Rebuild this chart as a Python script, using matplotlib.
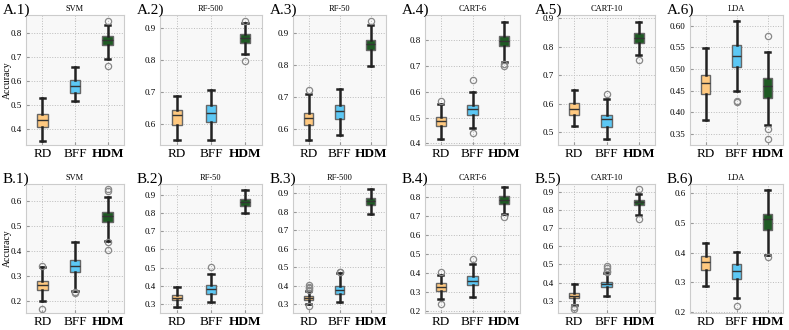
import matplotlib
matplotlib.use("Agg")
import matplotlib.pyplot as plt
from matplotlib.ticker import MultipleLocator

plt.rcParams['font.family'] = ['Liberation Serif', 'DejaVu Serif']

methods = ['RD', 'BFF', 'HDM']
colors = ['#FFC980', '#5CC8F5', '#1F5A24']

labels = ['A.1)', 'A.2)', 'A.3)', 'A.4)', 'A.5)', 'A.6)',
          'B.1)', 'B.2)', 'B.3)', 'B.4)', 'B.5)', 'B.6)']
titles = ['SVM', 'RF-500', 'RF-50', 'CART-6', 'CART-10', 'LDA',
          'SVM', 'RF-50', 'RF-500', 'CART-6', 'CART-10', 'LDA']

# box statistics per panel: [RD, BFF, HDM]
whislo = [[0.353, 0.519, 0.693], [0.549, 0.551, 0.817], [0.566, 0.580, 0.797],
          [0.417, 0.460, 0.715], [0.520, 0.474, 0.770], [0.381, 0.448, 0.371],
          [0.197, 0.237, 0.439], [0.282, 0.313, 0.800], [0.300, 0.309, 0.789],
          [0.264, 0.274, 0.713], [0.278, 0.329, 0.769], [0.286, 0.246, 0.393]]
q1 = [[0.411, 0.553, 0.751], [0.596, 0.606, 0.851], [0.612, 0.630, 0.847],
      [0.466, 0.512, 0.776], [0.558, 0.517, 0.813], [0.441, 0.504, 0.433],
      [0.244, 0.314, 0.514], [0.322, 0.358, 0.841], [0.320, 0.356, 0.835],
      [0.309, 0.338, 0.767], [0.315, 0.378, 0.824], [0.340, 0.311, 0.475]]
med = [[0.437, 0.580, 0.770], [0.626, 0.634, 0.866], [0.635, 0.656, 0.867],
       [0.485, 0.534, 0.795], [0.581, 0.544, 0.830], [0.467, 0.530, 0.461],
       [0.264, 0.337, 0.539], [0.336, 0.381, 0.861], [0.332, 0.378, 0.856],
       [0.329, 0.362, 0.788], [0.327, 0.391, 0.842], [0.369, 0.338, 0.511]]
q3 = [[0.464, 0.606, 0.789], [0.644, 0.659, 0.879], [0.651, 0.674, 0.880],
      [0.502, 0.547, 0.814], [0.601, 0.561, 0.848], [0.486, 0.555, 0.479],
      [0.280, 0.361, 0.556], [0.348, 0.402, 0.878], [0.344, 0.400, 0.874],
      [0.350, 0.387, 0.809], [0.342, 0.405, 0.855], [0.387, 0.362, 0.529]]
whishi = [[0.529, 0.661, 0.835], [0.686, 0.704, 0.913], [0.708, 0.724, 0.925],
          [0.553, 0.600, 0.871], [0.648, 0.616, 0.888], [0.549, 0.610, 0.540],
          [0.333, 0.433, 0.616], [0.395, 0.465, 0.927], [0.370, 0.468, 0.921],
          [0.390, 0.447, 0.857], [0.391, 0.451, 0.887], [0.433, 0.401, 0.611]]
fliers = [[[], [], [0.850, 0.665]],
          [[], [], [0.921, 0.797]],
          [[0.722], [], [0.940]],
          [[0.566], [0.645, 0.441], [0.706, 0.698]],
          [[], [0.633], [0.755]],
          [[], [0.423, 0.425], [0.576, 0.360, 0.338]],
          [[0.337, 0.167], [0.233, 0.229], [0.645, 0.639, 0.433, 0.403]],
          [[], [0.501], []],
          [[0.405, 0.395, 0.385, 0.378, 0.288], [0.476, 0.471], []],
          [[0.407, 0.238], [0.476], [0.698]],
          [[0.265, 0.256], [0.491, 0.478, 0.465, 0.456], [0.915, 0.747]],
          [[], [0.221], [0.384]]]
ylims = [(0.335, 0.876), (0.534, 0.939), (0.549, 0.958), (0.394, 0.897),
         (0.454, 0.912), (0.324, 0.625), (0.151, 0.666), (0.251, 0.959),
         (0.252, 0.949), (0.191, 0.871), (0.233, 0.942), (0.197, 0.630)]
ysteps = [0.1, 0.1, 0.1, 0.1, 0.1, 0.05, 0.1, 0.1, 0.1, 0.1, 0.1, 0.1]

W, H = 789, 330
lefts = [26, 160, 293, 425, 558, 690]
rights = [124, 262, 386, 520, 655, 783]
rows = [(15, 145), (184, 313)]

fig = plt.figure(figsize=(W / 100, H / 100), dpi=100)

for i in range(12):
    r, c = divmod(i, 6)
    top, bot = rows[r]
    ax = fig.add_axes([lefts[c] / W, 1 - bot / H, (rights[c] - lefts[c]) / W, (bot - top) / H])
    ax.set_facecolor('#F8F8F8')
    stats = []
    for j in range(3):
        stats.append(dict(med=med[i][j], q1=q1[i][j], q3=q3[i][j],
                          whislo=whislo[i][j], whishi=whishi[i][j],
                          fliers=fliers[i][j]))
    bp = ax.bxp(stats, positions=[1, 2, 3], widths=0.32, patch_artist=True,
                boxprops=dict(edgecolor='#666666', linewidth=1.0),
                whiskerprops=dict(color='#222222', linewidth=1.8),
                capprops=dict(color='#222222', linewidth=1.8),
                medianprops=dict(color='#333333', linewidth=1.0),
                flierprops=dict(marker='o', markerfacecolor='none',
                                markeredgecolor='#888888', markersize=4.5,
                                markeredgewidth=0.9))
    for patch, col in zip(bp['boxes'], colors):
        patch.set_facecolor(col)
    ax.set_xlim(0.5, 3.5)
    ax.set_ylim(*ylims[i])
    ax.yaxis.set_major_locator(MultipleLocator(ysteps[i]))
    if ysteps[i] < 0.1:
        ax.yaxis.set_major_formatter('{x:.2f}')
    else:
        ax.yaxis.set_major_formatter('{x:.1f}')
    ax.set_xticks([1, 2, 3])
    ax.set_xticklabels(methods, fontsize=9.5)
    ax.get_xticklabels()[2].set_fontweight('bold')
    ax.tick_params(axis='y', labelsize=6.5, direction='in', length=2.5, pad=3, color='#999999')
    ax.tick_params(axis='x', direction='in', length=2.5, pad=2, color='#999999')
    ax.grid(True, linestyle=':', color='#BBBBBB', linewidth=0.7)
    ax.set_axisbelow(True)
    for s in ax.spines.values():
        s.set_color('#CCCCCC')
    ax.set_title(titles[i], fontsize=6, pad=3)
    if c == 0:
        fig.text(3 / W, 1 - (top + bot) / 2 / H, 'Accuracy', rotation=90,
                 fontsize=7, ha='left', va='center')
    fig.text((lefts[c] - 23) / W, 1 - (top - 1) / H, labels[i], fontsize=11,
             ha='left', va='baseline')

fig.savefig('out.png', dpi=100)
